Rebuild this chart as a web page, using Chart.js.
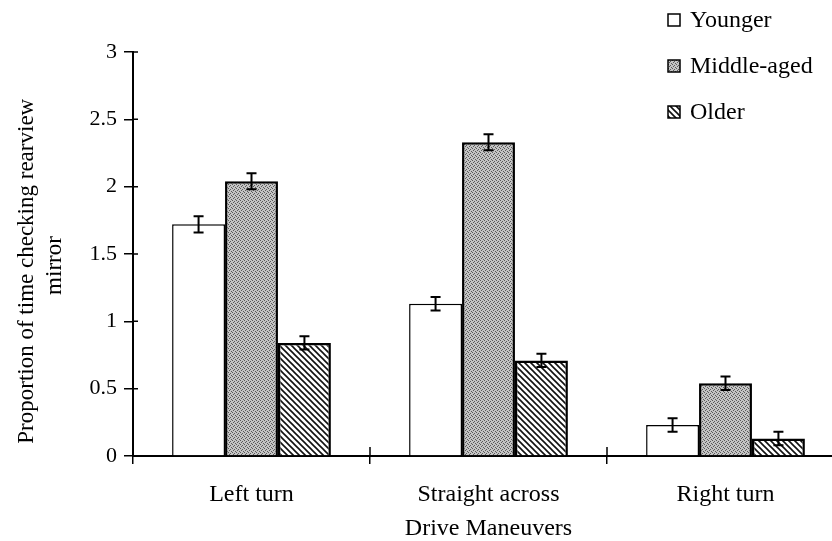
<!DOCTYPE html>
<html>
<head>
<meta charset="utf-8">
<script src="https://cdn.jsdelivr.net/npm/chart.js@4.4.1/dist/chart.umd.min.js"></script>
<style>
  html, body { margin: 0; padding: 0; background: #fff; overflow: hidden; }
  #wrap { width: 844px; height: 541px; }
</style>
</head>
<body>
<div id="wrap"><canvas id="mirrorChart" width="844" height="541"></canvas></div>
<script>
const maneuvers = ["Left turn", "Straight across", "Right turn"];
const groups = ["Younger", "Middle-aged", "Older"];
const younger = [1.72, 1.13, 0.23];
const middleAged = [2.04, 2.33, 0.54];
const older = [0.84, 0.71, 0.13];
const youngerErr = [0.06, 0.05, 0.05];
const middleErr = [0.06, 0.06, 0.05];
const olderErr = [0.05, 0.05, 0.05];
const yTicks = [0, 0.5, 1, 1.5, 2, 2.5, 3];

const serif = "'Liberation Serif', 'Times New Roman', serif";

// little canvas patterns for the scanned fills
function stipple() {
  const c = document.createElement("canvas");
  c.width = 4; c.height = 4;
  const g = c.getContext("2d");
  g.fillStyle = "#c4c4c4";
  g.fillRect(0, 0, 4, 4);
  g.fillStyle = "#5a5a5a";
  [[0, 0], [2, 1], [1, 2], [3, 3]].forEach(p => g.fillRect(p[0], p[1], 1, 1));
  return g.createPattern(c, "repeat");
}

function hatch() {
  const s = 6;
  const c = document.createElement("canvas");
  c.width = s; c.height = s;
  const g = c.getContext("2d");
  g.fillStyle = "#fff";
  g.fillRect(0, 0, s, s);
  g.strokeStyle = "#111";
  g.lineWidth = 1.6;
  g.beginPath();
  g.moveTo(0, 0); g.lineTo(s, s);
  g.moveTo(-1, s - 1); g.lineTo(1, s + 1);
  g.moveTo(s - 1, -1); g.lineTo(s + 1, 1);
  g.stroke();
  return g.createPattern(c, "repeat");
}

const errs = [youngerErr, middleErr, olderErr];

const errorBars = {
  id: "errorBars",
  afterDatasetsDraw(chart) {
    const ctx = chart.ctx;
    const y = chart.scales.y;
    ctx.save();
    ctx.strokeStyle = "#000";
    ctx.lineWidth = 2;
    chart.data.datasets.forEach((ds, i) => {
      const meta = chart.getDatasetMeta(i);
      meta.data.forEach((bar, j) => {
        const v = ds.data[j], e = errs[i][j];
        const top = y.getPixelForValue(v + e);
        const bot = y.getPixelForValue(v - e);
        ctx.beginPath();
        ctx.moveTo(bar.x, top); ctx.lineTo(bar.x, bot);
        ctx.moveTo(bar.x - 5, top); ctx.lineTo(bar.x + 5, top);
        ctx.moveTo(bar.x - 5, bot); ctx.lineTo(bar.x + 5, bot);
        ctx.stroke();
      });
    });
    ctx.restore();
  }
};

// tick marks in the original cross the axis line
const crossTicks = {
  id: "crossTicks",
  afterDraw(chart) {
    const ctx = chart.ctx;
    const x = chart.scales.x, y = chart.scales.y;
    const area = chart.chartArea;
    ctx.save();
    ctx.strokeStyle = "#000";
    ctx.lineWidth = 1.5;
    ctx.beginPath();
    yTicks.forEach(t => {
      const py = y.getPixelForValue(t);
      ctx.moveTo(area.left, py); ctx.lineTo(area.left + 5, py);
    });
    for (let i = 0; i < maneuvers.length - 1; i++) {
      const px = (x.getPixelForValue(i) + x.getPixelForValue(i + 1)) / 2;
      ctx.moveTo(px, area.bottom); ctx.lineTo(px, area.bottom - 9);
    }
    ctx.stroke();
    ctx.restore();
  }
};

const sideLegend = {
  id: "sideLegend",
  afterDraw(chart) {
    const ctx = chart.ctx;
    ctx.save();
    ctx.font = "24px " + serif;
    ctx.textBaseline = "middle";
    chart.data.datasets.forEach((ds, i) => {
      const cy = 20 + i * 46;
      ctx.fillStyle = ds.backgroundColor;
      ctx.fillRect(668, cy - 6, 12, 12);
      ctx.strokeStyle = "#000";
      ctx.lineWidth = 1.5;
      ctx.strokeRect(668, cy - 6, 12, 12);
      ctx.fillStyle = "#000";
      ctx.fillText(ds.label, 690, cy + 1);
    });
    ctx.restore();
  }
};

const ctx = document.getElementById("mirrorChart").getContext("2d");
new Chart(ctx, {
  type: "bar",
  data: {
    labels: maneuvers,
    datasets: [
      { label: groups[0], data: younger, backgroundColor: "#ffffff", borderColor: "#000", borderWidth: 1.5 },
      { label: groups[1], data: middleAged, backgroundColor: stipple(), borderColor: "#000", borderWidth: 2.5 },
      { label: groups[2], data: older, backgroundColor: hatch(), borderColor: "#000", borderWidth: 2.5 }
    ]
  },
  options: {
    responsive: false,
    animation: false,
    events: [],
    layout: { padding: { top: 52, right: 0, bottom: 0, left: 0 } },
    datasets: { bar: { categoryPercentage: 0.67, barPercentage: 1 } },
    plugins: { legend: { display: false }, tooltip: { enabled: false } },
    scales: {
      x: {
        offset: true,
        grid: { drawOnChartArea: false, offset: true, color: "#000", lineWidth: 1.5, tickLength: 8 },
        border: { color: "#000", width: 2 },
        ticks: { color: "#000", font: { family: serif, size: 24 }, padding: 16 },
        title: { display: true, text: "Drive Maneuvers", color: "#000", font: { family: serif, size: 24, lineHeight: 1 }, padding: { top: 0, bottom: 0 } },
        afterFit(scale) { scale.height = 85; }
      },
      y: {
        min: 0,
        max: 3,
        afterBuildTicks(scale) { scale.ticks = yTicks.map(v => ({ value: v })); },
        grid: { drawOnChartArea: false, color: "#000", lineWidth: 1.5, tickLength: 9 },
        border: { color: "#000", width: 2 },
        ticks: { color: "#000", font: { family: serif, size: 22 }, padding: 7, callback: v => String(v) },
        // trailing spaces nudge the rotated lines down to where the scan has them
        title: { display: true, text: ["Proportion of time checking rearview      ", "mirror    "], color: "#000", font: { family: serif, size: 23, lineHeight: 1.22 }, padding: { top: 13, bottom: 0 } },
        afterFit(scale) { scale.width = 133; }
      }
    }
  },
  plugins: [errorBars, crossTicks, sideLegend]
});
</script>
</body>
</html>
